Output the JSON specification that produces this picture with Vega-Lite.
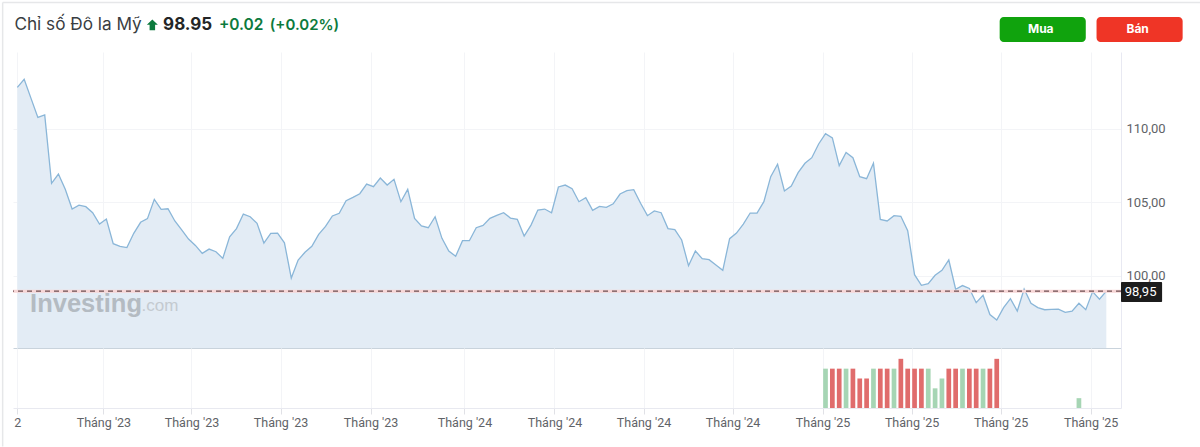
{"$schema":"https://vega.github.io/schema/vega-lite/v6.json","background":"white","padding":{"left":1,"top":1,"right":0,"bottom":0},"autosize":{"type":"pad"},"spacing":0,"bounds":"flush","datasets":{"price":[
{"date":"2022-10-05","close":112.8},{"date":"2022-10-12","close":113.34},{"date":"2022-10-19","close":112.05},{"date":"2022-10-26","close":110.76},{"date":"2022-11-02","close":110.92},{"date":"2022-11-09","close":106.28},{"date":"2022-11-16","close":106.91},{"date":"2022-11-23","close":105.87},{"date":"2022-11-30","close":104.53},{"date":"2022-12-07","close":104.8},{"date":"2022-12-14","close":104.69},{"date":"2022-12-21","close":104.28},{"date":"2022-12-28","close":103.51},{"date":"2023-01-04","close":103.85},{"date":"2023-01-11","close":102.18},{"date":"2023-01-18","close":102.0},{"date":"2023-01-25","close":101.91},{"date":"2023-02-01","close":102.88},{"date":"2023-02-08","close":103.63},{"date":"2023-02-15","close":103.88},{"date":"2023-02-22","close":105.19},{"date":"2023-03-01","close":104.51},{"date":"2023-03-08","close":104.55},{"date":"2023-03-15","close":103.72},{"date":"2023-03-22","close":103.11},{"date":"2023-03-29","close":102.49},{"date":"2023-04-05","close":102.06},{"date":"2023-04-12","close":101.52},{"date":"2023-04-19","close":101.81},{"date":"2023-04-26","close":101.63},{"date":"2023-05-03","close":101.18},{"date":"2023-05-10","close":102.65},{"date":"2023-05-17","close":103.2},{"date":"2023-05-24","close":104.19},{"date":"2023-05-31","close":104.01},{"date":"2023-06-07","close":103.56},{"date":"2023-06-14","close":102.22},{"date":"2023-06-21","close":102.88},{"date":"2023-06-28","close":102.9},{"date":"2023-07-05","close":102.24},{"date":"2023-07-12","close":99.84},{"date":"2023-07-19","close":101.07},{"date":"2023-07-26","close":101.59},{"date":"2023-08-02","close":102.0},{"date":"2023-08-09","close":102.81},{"date":"2023-08-16","close":103.35},{"date":"2023-08-23","close":104.06},{"date":"2023-08-30","close":104.24},{"date":"2023-09-06","close":105.1},{"date":"2023-09-13","close":105.32},{"date":"2023-09-20","close":105.57},{"date":"2023-09-27","close":106.23},{"date":"2023-10-04","close":106.05},{"date":"2023-10-11","close":106.64},{"date":"2023-10-18","close":106.16},{"date":"2023-10-25","close":106.55},{"date":"2023-11-01","close":105.03},{"date":"2023-11-08","close":105.87},{"date":"2023-11-15","close":103.9},{"date":"2023-11-22","close":103.38},{"date":"2023-11-29","close":103.26},{"date":"2023-12-06","close":104.01},{"date":"2023-12-13","close":102.54},{"date":"2023-12-20","close":101.68},{"date":"2023-12-27","close":101.32},{"date":"2024-01-03","close":102.38},{"date":"2024-01-10","close":102.38},{"date":"2024-01-17","close":103.26},{"date":"2024-01-24","close":103.42},{"date":"2024-01-31","close":103.9},{"date":"2024-02-07","close":104.1},{"date":"2024-02-14","close":104.28},{"date":"2024-02-21","close":103.92},{"date":"2024-02-28","close":103.83},{"date":"2024-03-06","close":102.7},{"date":"2024-03-13","close":103.44},{"date":"2024-03-20","close":104.46},{"date":"2024-03-27","close":104.53},{"date":"2024-04-03","close":104.28},{"date":"2024-04-10","close":106.03},{"date":"2024-04-17","close":106.16},{"date":"2024-04-24","close":105.91},{"date":"2024-05-01","close":105.03},{"date":"2024-05-08","close":105.3},{"date":"2024-05-15","close":104.44},{"date":"2024-05-22","close":104.71},{"date":"2024-05-29","close":104.65},{"date":"2024-06-05","close":104.89},{"date":"2024-06-12","close":105.55},{"date":"2024-06-19","close":105.78},{"date":"2024-06-26","close":105.85},{"date":"2024-07-03","close":104.92},{"date":"2024-07-10","close":104.08},{"date":"2024-07-17","close":104.4},{"date":"2024-07-24","close":104.28},{"date":"2024-07-31","close":103.2},{"date":"2024-08-07","close":103.13},{"date":"2024-08-14","close":102.43},{"date":"2024-08-21","close":100.68},{"date":"2024-08-28","close":101.68},{"date":"2024-09-04","close":101.16},{"date":"2024-09-11","close":101.09},{"date":"2024-09-18","close":100.73},{"date":"2024-09-25","close":100.37},{"date":"2024-10-02","close":102.52},{"date":"2024-10-09","close":102.9},{"date":"2024-10-16","close":103.51},{"date":"2024-10-23","close":104.26},{"date":"2024-10-30","close":104.26},{"date":"2024-11-06","close":105.03},{"date":"2024-11-13","close":106.73},{"date":"2024-11-20","close":107.57},{"date":"2024-11-27","close":105.76},{"date":"2024-12-04","close":106.1},{"date":"2024-12-11","close":107.0},{"date":"2024-12-18","close":107.64},{"date":"2024-12-25","close":108.02},{"date":"2025-01-01","close":108.95},{"date":"2025-01-08","close":109.65},{"date":"2025-01-15","close":109.36},{"date":"2025-01-22","close":107.48},{"date":"2025-01-29","close":108.38},{"date":"2025-02-05","close":108.02},{"date":"2025-02-12","close":106.73},{"date":"2025-02-19","close":106.59},{"date":"2025-02-26","close":107.64},{"date":"2025-03-05","close":103.83},{"date":"2025-03-12","close":103.72},{"date":"2025-03-19","close":104.08},{"date":"2025-03-26","close":104.04},{"date":"2025-04-02","close":103.06},{"date":"2025-04-09","close":100.07},{"date":"2025-04-16","close":99.35},{"date":"2025-04-23","close":99.46},{"date":"2025-04-30","close":100.03},{"date":"2025-05-07","close":100.37},{"date":"2025-05-14","close":101.07},{"date":"2025-05-21","close":99.08},{"date":"2025-05-28","close":99.33},{"date":"2025-06-04","close":99.14},{"date":"2025-06-11","close":98.17},{"date":"2025-06-18","close":98.67},{"date":"2025-06-25","close":97.36},{"date":"2025-07-02","close":96.99},{"date":"2025-07-09","close":97.83},{"date":"2025-07-16","close":98.44},{"date":"2025-07-23","close":97.6},{"date":"2025-07-30","close":99.1},{"date":"2025-08-06","close":98.13},{"date":"2025-08-13","close":97.83},{"date":"2025-08-20","close":97.69},{"date":"2025-08-27","close":97.71},{"date":"2025-09-03","close":97.73},{"date":"2025-09-10","close":97.51},{"date":"2025-09-17","close":97.6},{"date":"2025-09-24","close":98.13},{"date":"2025-10-01","close":97.69},{"date":"2025-10-08","close":98.92},{"date":"2025-10-15","close":98.4},{"date":"2025-10-22","close":98.95}],
"volume":[
{"date":"2025-01-08","level":4,"side":"up"},{"date":"2025-01-15","level":4,"side":"down"},{"date":"2025-01-22","level":4,"side":"down"},{"date":"2025-01-29","level":4,"side":"up"},{"date":"2025-02-05","level":4,"side":"down"},{"date":"2025-02-12","level":3,"side":"down"},{"date":"2025-02-19","level":3,"side":"down"},{"date":"2025-02-26","level":4,"side":"up"},{"date":"2025-03-05","level":4,"side":"down"},{"date":"2025-03-12","level":4,"side":"down"},{"date":"2025-03-19","level":4,"side":"up"},{"date":"2025-03-26","level":5,"side":"down"},{"date":"2025-04-02","level":4,"side":"down"},{"date":"2025-04-09","level":4,"side":"down"},{"date":"2025-04-16","level":4,"side":"down"},{"date":"2025-04-23","level":4,"side":"up"},{"date":"2025-04-30","level":2,"side":"up"},{"date":"2025-05-07","level":3,"side":"up"},{"date":"2025-05-14","level":4,"side":"down"},{"date":"2025-05-21","level":4,"side":"down"},{"date":"2025-05-28","level":4,"side":"up"},{"date":"2025-06-04","level":4,"side":"down"},{"date":"2025-06-11","level":4,"side":"down"},{"date":"2025-06-18","level":4,"side":"up"},{"date":"2025-06-25","level":4,"side":"down"},{"date":"2025-07-02","level":5,"side":"down"},{"date":"2025-09-24","level":1,"side":"up"}]},
"vconcat":[{"width":1108,"height":296,"layer":[
{"data":{"name":"price"},"mark":{"type":"area","color":"#e3ecf5"},"encoding":{"x":{"field":"date","type":"temporal","scale":{"type":"utc","domain":["2022-09-30T14:00:00Z","2025-11-06T00:00:00Z"]},"axis":{"title":null,"labels":false,"ticks":false,"grid":true,"gridColor":"#f3f4f7","domain":true,"domainColor":"#c9d3dc","values":[{"year":2022,"month":10,"date":5,"utc":true},{"year":2023,"month":1,"date":1,"utc":true},{"year":2023,"month":4,"date":1,"utc":true},{"year":2023,"month":7,"date":1,"utc":true},{"year":2023,"month":10,"date":1,"utc":true},{"year":2024,"month":1,"date":5,"utc":true},{"year":2024,"month":4,"date":6,"utc":true},{"year":2024,"month":7,"date":6,"utc":true},{"year":2024,"month":10,"date":5,"utc":true},{"year":2025,"month":1,"date":5,"utc":true},{"year":2025,"month":4,"date":6,"utc":true},{"year":2025,"month":7,"date":6,"utc":true},{"year":2025,"month":10,"date":6,"utc":true}]}},"y":{"field":"close","type":"quantitative","scale":{"zero":false,"nice":false,"domain":[95.09,115.2]},"axis":{"title":null,"orient":"right","values":[100,105,110],"tickSize":0,"labelPadding":5,"labelFont":"Roboto","labelFontSize":13,"labelColor":"#5f6368","labelExpr":"replace(format(datum.value,'.2f'),'.',',')","grid":true,"gridColor":"#f3f4f7","domain":true,"domainColor":"#e8e9f2"}},"y2":{"datum":95.09}}},
{"data":{"name":"price"},"mark":{"type":"line","color":"#8ab6d8","strokeWidth":1.3},"encoding":{"x":{"field":"date","type":"temporal","scale":{"type":"utc","domain":["2022-09-30T14:00:00Z","2025-11-06T00:00:00Z"]}},"y":{"field":"close","type":"quantitative","scale":{"zero":false,"nice":false,"domain":[95.09,115.2]}}}},
{"data":{"values":[{"close":98.95}]},"mark":{"type":"rule","color":"#f7d6d6","strokeWidth":3},"encoding":{"y":{"field":"close","type":"quantitative"}}},
{"data":{"values":[{"close":98.95}]},"mark":{"type":"rule","color":"#6e4f52","strokeWidth":1.2,"strokeDash":[5,4]},"encoding":{"y":{"field":"close","type":"quantitative"}}},
{"data":{"values":[{"label":"Investing"}]},"mark":{"type":"text","align":"left","baseline":"middle","font":"Liberation Sans","fontWeight":"bold","fontSize":25.5,"color":"#b4bbc2"},"encoding":{"text":{"field":"label"},"x":{"datum":{"year":2022,"month":10,"date":18,"utc":true},"type":"temporal","scale":{"type":"utc"}},"y":{"datum":98.08,"type":"quantitative"}}},
{"data":{"values":[{"label":".com"}]},"mark":{"type":"text","align":"left","baseline":"middle","font":"Liberation Sans","fontSize":17,"color":"#c4cad0"},"encoding":{"text":{"field":"label"},"x":{"datum":{"year":2023,"month":2,"date":9,"utc":true},"type":"temporal","scale":{"type":"utc"}},"y":{"datum":97.95,"type":"quantitative"}}},
{"data":{"values":[{"label":"98,95"}]},"mark":{"type":"rect","color":"#1c1c1c","cornerRadius":1},"encoding":{"x":{"datum":{"year":2025,"month":11,"date":6,"utc":true},"type":"temporal","scale":{"type":"utc"}},"x2":{"datum":{"year":2025,"month":12,"date":18,"utc":true}},"y":{"datum":99.57,"type":"quantitative"},"y2":{"datum":98.21}}},
{"data":{"values":[{"label":"98,95"}]},"mark":{"type":"text","align":"center","baseline":"middle","font":"Roboto","fontSize":13,"color":"#ffffff"},"encoding":{"text":{"field":"label"},"x":{"datum":{"year":2025,"month":11,"date":26,"utc":true},"type":"temporal","scale":{"type":"utc"}},"y":{"datum":98.89,"type":"quantitative"}}},
{"data":{"values":[{"label":"frame"}]},"mark":{"type":"rule","color":"#e6e7e9","strokeWidth":1.5},"encoding":{"x":{"datum":{"year":2022,"month":9,"date":20,"utc":true},"type":"temporal","scale":{"type":"utc"}},"y":{"datum":118.56,"type":"quantitative"},"y2":{"datum":88.4}}},
{"data":{"values":[{"label":"frame"}]},"mark":{"type":"rule","color":"#e6e7e9","strokeWidth":1.5},"encoding":{"x":{"datum":{"year":2022,"month":9,"date":20,"utc":true},"type":"temporal","scale":{"type":"utc"}},"x2":{"datum":{"year":2026,"month":2,"date":15,"utc":true}},"y":{"datum":118.56,"type":"quantitative"}}},
{"data":{"values":[{"label":"Chỉ số Đô la Mỹ"}]},"mark":{"type":"text","align":"left","baseline":"middle","font":"Inter","fontSize":17.2,"color":"#3a3d42"},"encoding":{"text":{"field":"label"},"x":{"datum":{"year":2022,"month":10,"date":2,"utc":true},"type":"temporal","scale":{"type":"utc"}},"y":{"datum":117.03,"type":"quantitative"}}},
{"data":{"values":[{"label":"up"}]},"mark":{"type":"point","filled":true,"opacity":1,"size":121,"color":"#0c7a3d","shape":"M0,-1 L1,-0.05 L0.5,-0.05 L0.5,0.95 L-0.5,0.95 L-0.5,-0.05 L-1,-0.05 Z"},"encoding":{"x":{"datum":{"year":2023,"month":2,"date":20,"utc":true},"type":"temporal","scale":{"type":"utc"}},"y":{"datum":117.03,"type":"quantitative"}}},
{"data":{"values":[{"label":"98.95"}]},"mark":{"type":"text","align":"left","baseline":"middle","font":"Inter","fontWeight":"bold","fontSize":17,"color":"#232526"},"encoding":{"text":{"field":"label"},"x":{"datum":{"year":2023,"month":3,"date":3,"utc":true},"type":"temporal","scale":{"type":"utc"}},"y":{"datum":117.03,"type":"quantitative"}}},
{"data":{"values":[{"label":"+0.02"}]},"mark":{"type":"text","align":"left","baseline":"middle","font":"Inter","fontWeight":600,"fontSize":15.5,"color":"#0c7a3d"},"encoding":{"text":{"field":"label"},"x":{"datum":{"year":2023,"month":4,"date":29,"utc":true},"type":"temporal","scale":{"type":"utc"}},"y":{"datum":117.03,"type":"quantitative"}}},
{"data":{"values":[{"label":"(+0.02%)"}]},"mark":{"type":"text","align":"left","baseline":"middle","font":"Inter","fontWeight":600,"fontSize":15,"color":"#0c7a3d"},"encoding":{"text":{"field":"label"},"x":{"datum":{"year":2023,"month":6,"date":20,"utc":true},"type":"temporal","scale":{"type":"utc"}},"y":{"datum":117.03,"type":"quantitative"}}},
{"data":{"values":[{"label":"Mua"}]},"mark":{"type":"rect","color":"#10a30d","cornerRadius":4},"encoding":{"x":{"datum":{"year":2025,"month":7,"date":5,"utc":true},"type":"temporal","scale":{"type":"utc"}},"x2":{"datum":{"year":2025,"month":10,"date":1,"utc":true}},"y":{"datum":117.57,"type":"quantitative"},"y2":{"datum":115.88}}},
{"data":{"values":[{"label":"Bán"}]},"mark":{"type":"rect","color":"#ef3526","cornerRadius":4},"encoding":{"x":{"datum":{"year":2025,"month":10,"date":12,"utc":true},"type":"temporal","scale":{"type":"utc"}},"x2":{"datum":{"year":2026,"month":1,"date":8,"utc":true}},"y":{"datum":117.57,"type":"quantitative"},"y2":{"datum":115.88}}},
{"data":{"values":[{"label":"Mua"}]},"mark":{"type":"text","align":"center","baseline":"middle","font":"Inter","fontWeight":"bold","fontSize":12,"color":"#ffffff"},"encoding":{"text":{"field":"label"},"x":{"datum":{"year":2025,"month":8,"date":16,"utc":true},"type":"temporal","scale":{"type":"utc"}},"y":{"datum":116.73,"type":"quantitative"}}},
{"data":{"values":[{"label":"Bán"}]},"mark":{"type":"text","align":"center","baseline":"middle","font":"Inter","fontWeight":"bold","fontSize":12,"color":"#ffffff"},"encoding":{"text":{"field":"label"},"x":{"datum":{"year":2025,"month":11,"date":23,"utc":true},"type":"temporal","scale":{"type":"utc"}},"y":{"datum":116.73,"type":"quantitative"}}}
]},
{"width":1108,"height":60,"data":{"name":"volume"},"mark":{"type":"bar","size":4.7},"encoding":{"x":{"field":"date","type":"temporal","scale":{"type":"utc","padding":0,"domain":["2022-09-30T14:00:00Z","2025-11-06T00:00:00Z"]},"axis":{"title":null,"grid":true,"gridColor":"#f3f4f7","domain":true,"domainColor":"#e8e9f0","ticks":true,"tickColor":"#e0e1e6","tickSize":6,"labelFont":"Roboto","labelFontSize":12.5,"labelColor":"#5f6368","labelPadding":2,"labelFlush":false,"labelOverlap":false,"labelExpr":"utcFormat(datum.value,'%y')=='22' ? '2' : \"Tháng '\"+utcFormat(datum.value,'%y')","values":[{"year":2022,"month":10,"date":5,"utc":true},{"year":2023,"month":1,"date":1,"utc":true},{"year":2023,"month":4,"date":1,"utc":true},{"year":2023,"month":7,"date":1,"utc":true},{"year":2023,"month":10,"date":1,"utc":true},{"year":2024,"month":1,"date":5,"utc":true},{"year":2024,"month":4,"date":6,"utc":true},{"year":2024,"month":7,"date":6,"utc":true},{"year":2024,"month":10,"date":5,"utc":true},{"year":2025,"month":1,"date":5,"utc":true},{"year":2025,"month":4,"date":6,"utc":true},{"year":2025,"month":7,"date":6,"utc":true},{"year":2025,"month":10,"date":6,"utc":true}]}},"y":{"field":"level","type":"quantitative","scale":{"domain":[0,6.1],"nice":false},"axis":{"title":null,"orient":"right","labels":false,"ticks":false,"grid":false,"domain":true,"domainColor":"#e8e9f2"}},"color":{"field":"side","type":"nominal","legend":null,"scale":{"domain":["up","down"],"range":["#a6d5b4","#e06c6c"]}}}}
],"config":{"view":{"stroke":null},"axis":{"labelFont":"Roboto"}}}
